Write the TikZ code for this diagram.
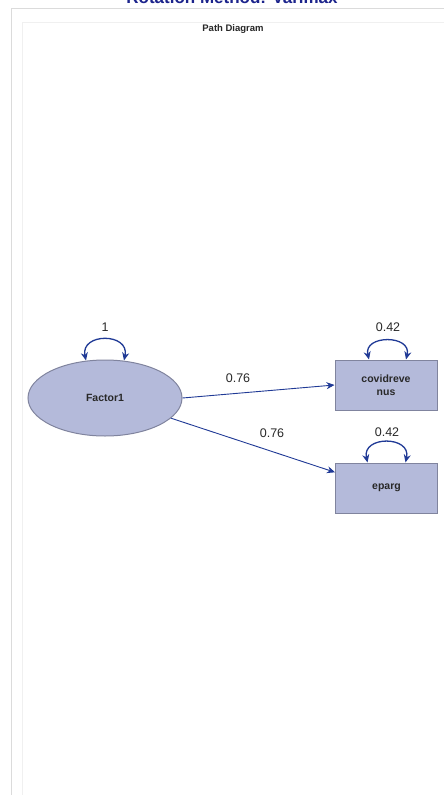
\documentclass[tikz,border=0pt]{standalone}
\usepackage{fontspec}
\setmainfont{Liberation Sans}
\usetikzlibrary{arrows.meta,calc,shapes.geometric}
\definecolor{nodefill}{RGB}{180,186,218}
\definecolor{nodeline}{RGB}{128,132,158}
\definecolor{pathblue}{RGB}{32,58,150}
\definecolor{titleblue}{RGB}{28,36,140}
\definecolor{labeltext}{RGB}{40,40,40}
\begin{document}
\begin{tikzpicture}[x=1pt,y=-1pt,
  latent/.style={ellipse,draw=nodeline,fill=nodefill,line width=1pt,
    minimum width=154pt,minimum height=76pt,inner sep=0pt,
    font=\fontsize{10.5}{12}\selectfont\bfseries,text=labeltext},
  manifest/.style={rectangle,draw=nodeline,fill=nodefill,line width=1pt,
    minimum width=102pt,minimum height=50pt,inner sep=0pt,align=center,
    font=\fontsize{10.5}{12.5}\selectfont\bfseries,text=labeltext},
  path/.style={draw=pathblue,line width=0.9pt,-{Stealth[length=8pt,width=7pt]}},
  varloop/.style={draw=pathblue,line width=1.3pt,
    {Stealth[length=8pt,width=7pt]}-{Stealth[length=8pt,width=7pt]}},
  est/.style={font=\fontsize{12.5}{14}\selectfont,text=labeltext,inner sep=0pt},
  frameline/.style={line width=0.8pt}]
\useasboundingbox (0,0) rectangle (444,795);
\fill[white] (0,0) rectangle (444,795);

% panel frame
\draw[frameline,gray!28] (11,795) -- (11,8) -- (444,8);
\draw[frameline,gray!12] (22,795) -- (22,22) -- (444,22);

% headings
\node[text=titleblue,font=\fontsize{17}{20}\selectfont\bfseries,anchor=base,inner sep=0pt]
  (title) at (232,3.5) {Rotation Method: Varimax};
\node[font=\fontsize{9.5}{11}\selectfont\bfseries,text=labeltext,inner sep=0pt]
  (sub) at (233,29) {Path Diagram};

% variables
\node[latent] (F) at (105,398) {Factor1};
\node[manifest] (C) at (386,385) {covidreve\\nus};
\node[manifest] (E) at (386.5,488) {eparg};

% loadings
\draw[path] (F.east) -- (C.west);
\draw[path] (F.-17) -- (E.163);
\node[est] (l1) at (238,378) {0.76};
\node[est] (l2) at (272,433) {0.76};

% variances
\coordinate (fa) at ($(F.north)+(-19,1)$);
\coordinate (fb) at ($(F.north)+(19,1)$);
\draw[varloop] (fa) .. controls ($(fa)+(-6,-28)$) and ($(fb)+(6,-28)$) .. (fb);
\node[est] (v0) at (105,327) {1};

\coordinate (ca) at ($(C.north)+(-17,0)$);
\coordinate (cb) at ($(C.north)+(20,0)$);
\draw[varloop] (ca) .. controls ($(ca)+(-6,-25)$) and ($(cb)+(6,-25)$) .. (cb);
\node[est] (v1) at (388,327) {0.42};

\coordinate (ea) at ($(E.north)+(-19,0)$);
\coordinate (eb) at ($(E.north)+(19,0)$);
\draw[varloop] (ea) .. controls ($(ea)+(-6,-27)$) and ($(eb)+(6,-27)$) .. (eb);
\node[est] (v2) at (387,432) {0.42};
\end{tikzpicture}
\end{document}
